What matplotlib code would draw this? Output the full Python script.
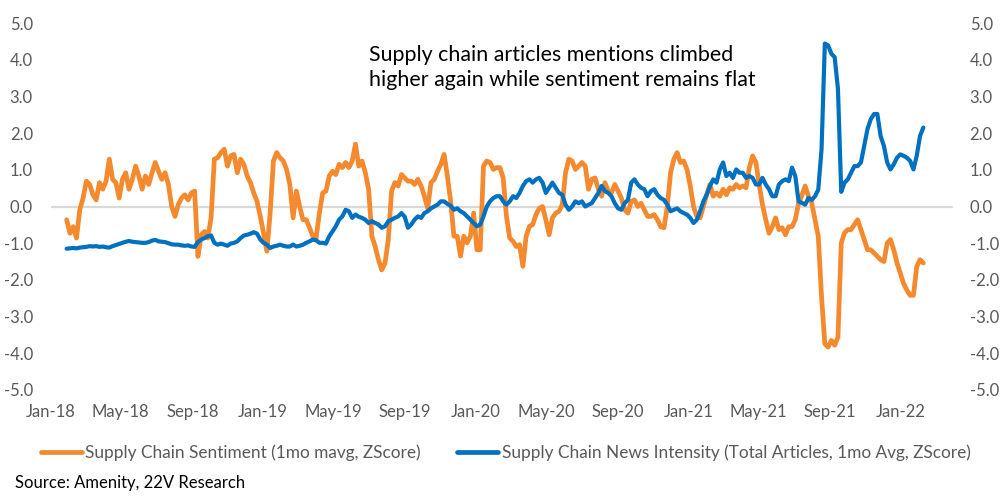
import matplotlib
matplotlib.use("Agg")
import matplotlib.pyplot as plt
import matplotlib.dates as mdates
from matplotlib.lines import Line2D
import pandas as pd

plt.rcParams['font.family'] = ['Lato', 'DejaVu Sans']

start_date = "2018-01-28"
end_date = "2022-02-09"

sentiment = [
    -0.36, -0.73, -0.55, -0.86, -0.09, 0.23, 0.69, 0.60, 0.32, 0.18, 0.65, 0.47, 0.69, 1.29, 0.74, 0.65, 0.23, 0.74, 0.92, 0.47,
    0.74, 1.10, 0.83, 0.47, 0.83, 0.60, 0.92, 1.20, 0.96, 0.74, 0.92, 0.60, 0.00, -0.27, 0.05, 0.23, 0.32, 0.18, 0.37, 0.42,
    -1.36, -0.77, -0.68, -0.86, -0.31, 1.29, 1.33, 1.47, 1.56, 1.10, 1.38, 1.42, 0.92, 1.29, 1.15, 0.83, 0.65, 0.37, 0.14, -0.27,
    -0.73, -1.22, -0.18, 1.24, 1.47, 1.33, 1.24, 1.01, 0.60, -0.31, 0.42, 0.00, -0.36, -0.36, -0.58, -0.81, -0.86, -0.18, 0.37, 0.42,
    0.83, 0.96, 0.87, 1.15, 1.06, 1.20,
    1.06, 1.24, 1.70, 1.10, 1.24, 0.92, 0.47, -0.81, -1.09, -1.45, -1.73, -1.54, -0.90, 0.42, 0.65, 0.56, 0.87, 0.78, 0.69, 0.69,
    0.60, 0.74, 0.56, 0.28, -0.05, 0.65, 0.74, 0.96, 1.15, 1.42, 0.83, 0.14, -0.81, -0.81, -1.35, -0.81, -0.99, -0.81, -0.18, -1.18,
    -1.18, 1.10, 1.24, 1.20, 1.01, 1.06,
    1.06, 0.78, -0.27, -0.86, -0.95, -1.09, -1.04, -1.63, -0.81, -0.54, -0.49, -0.22, -0.05, 0.00, -0.36, -0.77, -0.31, -0.18, -0.13, 0.05,
    0.92, 1.29, 1.24, 1.01, 1.10, 1.20, 1.10, 0.47, 0.74, 0.78, 0.47, 0.28, 0.65, 0.42, 0.37, 0.60, 0.42, 0.23, -0.09, -0.18,
    0.14, 0.18, 0.00, 0.09, -0.09, -0.27,
    -0.27, -0.22, -0.36, -0.55, -0.58, 0.00, 0.92, 1.29, 1.47, 1.20, 1.24, 1.01, 0.56, 0.00, -0.27, -0.31, 0.00, 0.32, 0.60, 0.28,
    0.37, 0.28, 0.47, 0.32, 0.51, 0.47, 0.60, 0.51, 0.56, 0.51, 1.06, 1.38, 1.20, 0.60, 0.05, -0.36, -0.73, -0.55, -0.31, -0.63,
    -0.58, -0.77, -0.55, -0.55, -0.36, 0.09,
    0.30, 0.56, 0.28, 0.10, -0.36, -0.81, -2.46, -3.74, -3.83, -3.65, -3.78, -3.56, -1.00, -0.72, -0.63, -0.63, -0.49, -0.36, -0.63, -0.90,
    -1.18, -1.18, -1.27, -1.36, -1.45, -1.50, -1.00, -0.90, -1.18, -1.54, -1.82, -2.10, -2.28, -2.42, -2.42, -1.64, -1.45, -1.54,
]

intensity = [
    -1.15, -1.14, -1.13, -1.14, -1.12, -1.11, -1.10, -1.08, -1.09, -1.08, -1.10, -1.09, -1.11, -1.12, -1.08, -1.05, -1.02, -0.99, -0.96, -0.94,
    -0.96, -0.97, -0.98, -0.99, -0.99, -0.97, -0.93, -0.91, -0.95, -0.96, -0.97, -1.00, -1.03, -1.04, -1.04, -1.06, -1.07, -1.06, -1.09, -1.10,
    -0.97, -0.90, -0.86, -0.81, -0.79, -0.99, -1.04, -1.01, -1.04, -1.07, -1.01, -0.99, -0.95, -0.86, -0.79, -0.77, -0.74, -0.70, -0.74, -0.90,
    -0.99, -1.04, -1.13, -1.09, -1.07, -1.04, -1.07, -1.09, -1.09, -1.04, -1.09, -1.07, -1.04, -0.99, -0.95, -0.90, -0.92, -0.99, -0.99, -1.01,
    -0.81, -0.68, -0.54, -0.36, -0.27, -0.09,
    -0.13, -0.31, -0.22, -0.28, -0.31, -0.36, -0.45, -0.40, -0.45, -0.49, -0.58, -0.54, -0.40, -0.36, -0.31, -0.27, -0.18, -0.28, -0.58, -0.49,
    -0.36, -0.27, -0.31, -0.18, -0.13, -0.05, 0.00, 0.05, 0.14, 0.14, 0.07, 0.02, -0.09, -0.05, -0.13, -0.18, -0.27, -0.36, -0.45, -0.54,
    -0.49, -0.27, 0.00, 0.14, 0.23, 0.28,
    0.28, 0.14, 0.05, 0.14, 0.28, 0.23, 0.37, 0.56, 0.69, 0.74, 0.65, 0.74, 0.78, 0.65, 0.37, 0.51, 0.65, 0.51, 0.37, 0.32,
    0.05, -0.09, 0.00, 0.14, 0.09, 0.14, 0.00, 0.05, 0.09, 0.23, 0.37, 0.56, 0.42, 0.37, 0.28, 0.09, -0.05, -0.09, 0.09, 0.18,
    0.65, 0.74, 0.60, 0.51, 0.47, 0.28,
    0.42, 0.47, 0.32, 0.23, 0.18, 0.05, -0.13, -0.09, -0.05, -0.13, -0.18, -0.22, -0.31, -0.45, -0.36, -0.13, 0.14, 0.32, 0.56, 0.74,
    0.65, 1.01, 1.20, 0.83, 0.92, 0.78, 1.01, 0.92, 0.92, 0.78, 0.83, 0.78, 0.60, 0.60, 0.78, 0.60, 0.47, 0.28, 0.28, 0.60,
    0.69, 0.74, 0.69, 1.06, 0.83, 0.14,
    0.10, 0.05, 0.23, 0.18, 0.28, 0.46, 1.56, 4.44, 4.39, 4.16, 4.07, 3.20, 0.40, 0.65, 0.74, 0.92, 1.10, 1.10, 1.20, 1.65,
    2.11, 2.38, 2.52, 2.52, 1.92, 1.65, 1.20, 1.01, 1.15, 1.33, 1.42, 1.38, 1.33, 1.24, 1.01, 1.38, 1.92, 2.15,
]

sentiment_label = "Supply Chain Sentiment (1mo mavg, ZScore)"
intensity_label = "Supply Chain News Intensity (Total Articles, 1mo Avg, ZScore)"
annotation = "Supply chain articles mentions climbed\nhigher again while sentiment remains flat"
source = "Source: Amenity, 22V Research"
y_ticks = [-5, -4, -3, -2, -1, 0, 1, 2, 3, 4, 5]

ORANGE = "#F5892D"
BLUE = "#0070C0"
TICK = "#595959"

dates_s = pd.date_range(start_date, end_date, periods=len(sentiment))
dates_i = pd.date_range(start_date, end_date, periods=len(intensity))

fig = plt.figure(figsize=(10.03, 5.00), dpi=100)
ax = fig.add_axes([0.0508, 0.22, 0.8993, 0.734])
ax2 = ax.twinx()

ax.axhline(0, color="#D9D9D9", lw=1.6, zorder=1)
ax.plot(dates_s, sentiment, color=ORANGE, lw=3.4, solid_joinstyle="round",
        solid_capstyle="round", zorder=3)
ax2.plot(dates_i, intensity, color=BLUE, lw=3.0, solid_joinstyle="round",
         solid_capstyle="round", zorder=3)

for a in (ax, ax2):
    a.set_ylim(-5, 5)
    a.set_yticks(y_ticks)
    a.set_yticklabels([f"{v:.1f}" for v in y_ticks])
    for s in a.spines.values():
        s.set_visible(False)
    a.tick_params(length=0, labelsize=12, labelcolor=TICK)
ax.tick_params(axis="y", pad=13)
ax2.tick_params(axis="y", pad=12)
ax.tick_params(axis="x", pad=10)

ax.set_xlim(pd.Timestamp("2018-01-01"), pd.Timestamp("2022-04-01"))
ax.xaxis.set_major_locator(mdates.MonthLocator(bymonth=[1, 5, 9]))
ax.xaxis.set_major_formatter(mdates.DateFormatter("%b-%y"))

ax.text(0.353, 0.94, annotation, transform=ax.transAxes, fontsize=15.4,
        color="black", va="top", ha="left", linespacing=1.32)

handles = [Line2D([], [], color=ORANGE, lw=3.4, solid_capstyle="round"),
           Line2D([], [], color=BLUE, lw=3.4, solid_capstyle="round")]
fig.legend(handles, [sentiment_label, intensity_label], loc="center left",
           bbox_to_anchor=(0.025, 0.094), ncol=2, frameon=False, fontsize=12.4,
           handlelength=2.4, handletextpad=0.2, columnspacing=2.1, labelcolor=TICK)

fig.text(0.015, 0.034, source, fontsize=12, color="black", va="center", ha="left")

fig.savefig("out.png", dpi=100)
